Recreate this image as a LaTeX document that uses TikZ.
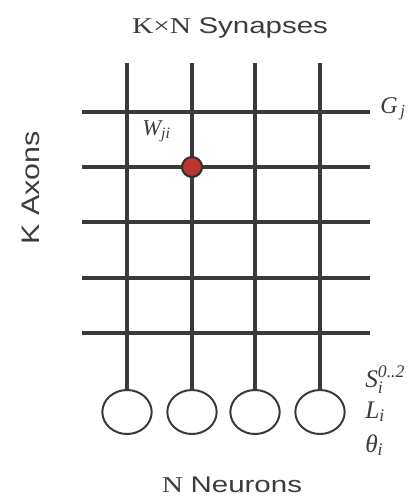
\documentclass[tikz,border=0pt]{standalone}
\usepackage{amsmath}
\usepackage{fontspec}
\setmainfont{Liberation Serif}
\setsansfont{Liberation Sans}
\usepackage{tikz}
\usetikzlibrary{positioning, shapes.geometric}

\definecolor{wiregray}{HTML}{3A3A3A}
\definecolor{textgray}{HTML}{3C3C3C}
\definecolor{synred}{HTML}{B8392B}

\begin{document}
\begin{tikzpicture}[x=0.75pt, y=-0.75pt, every node/.style={text=textgray}]
\tikzstyle{wire} = [draw=wiregray, line width=2.4pt]
\tikzstyle{neuron} = [ellipse, draw=wiregray, line width=1.5pt, fill=white, minimum width=37pt, minimum height=33pt, inner sep=0pt]
\tikzstyle{synapse} = [circle, draw=black!80, line width=1.6pt, fill=synred, minimum size=15pt, inner sep=0pt]
\tikzstyle{caption} = [anchor=base, inner sep=0pt, font=\fontsize{17}{20}\selectfont]
\tikzstyle{param} = [anchor=base west, inner sep=0pt, font=\fontsize{19}{22}\selectfont]

\useasboundingbox (0,0) rectangle (420,497);

% Neurons (bottom row)
\node (n1) [neuron] at (127,412) {};
\node (n2) [neuron] at (192,412) {};
\node (n3) [neuron] at (255,412) {};
\node (n4) [neuron] at (320,412) {};

% Dendrite tops
\coordinate (t1) at (127,63);
\coordinate (t2) at (192,63);
\coordinate (t3) at (255,63);
\coordinate (t4) at (320,63);

% Axon ends (left and right)
\coordinate (a1) at (82,112);  \coordinate (b1) at (370,112);
\coordinate (a2) at (82,167);  \coordinate (b2) at (370,167);
\coordinate (a3) at (82,222);  \coordinate (b3) at (370,222);
\coordinate (a4) at (82,278);  \coordinate (b4) at (370,278);
\coordinate (a5) at (82,333);  \coordinate (b5) at (370,333);

% Vertical lines (neurons)
\draw [wire] (t1) -- (n1);
\draw [wire] (t2) -- (n2);
\draw [wire] (t3) -- (n3);
\draw [wire] (t4) -- (n4);

% Horizontal lines (axons)
\draw [wire] (a1) -- (b1);
\draw [wire] (a2) -- (b2);
\draw [wire] (a3) -- (b3);
\draw [wire] (a4) -- (b4);
\draw [wire] (a5) -- (b5);

% Active synapse
\node (syn) [synapse] at (192,167) {};

% Labels
\node (title) [caption] at (230,33) {\scalebox{1.3}[1]{\rmfamily K×N \sffamily Synapses}};
\node (axons) [rotate=90, inner sep=0pt, font=\fontsize{19}{22}\selectfont] at (31,188) {\scalebox{1.2}[1]{\sffamily K Axons}};
\node (neurons) [caption] at (232,492) {\scalebox{1.3}[1]{\rmfamily N \sffamily Neurons}};
\node (gj) [anchor=base west, inner sep=0pt, font=\fontsize{18}{20}\selectfont] at (380,113) {$\textit{G}_{\,\textit{j}}$};
\node (wji) [anchor=base west, inner sep=0pt, font=\fontsize{17}{20}\selectfont] at (142,135) {$\textit{W}_{\!\,\textit{ji}}$};
\node (si) [param] at (365,387) {$\textit{S}_{\textit{i}}^{\textit{0..2}}$};
\node (li) [param] at (365,418) {$\textit{L}_{\textit{i}}$};
\node (thi) [param] at (365,452) {$\textit{θ}_{\textit{i}}$};

\end{tikzpicture}
\end{document}
